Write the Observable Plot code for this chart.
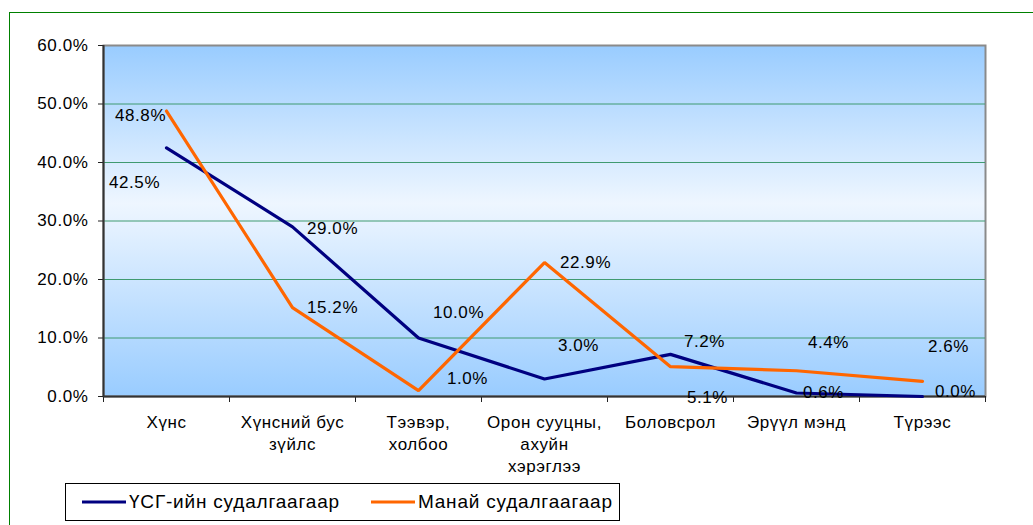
<!DOCTYPE html>
<html>
<head>
<meta charset="utf-8">
<script src="https://cdn.jsdelivr.net/npm/d3@7"></script>
<script src="https://cdn.jsdelivr.net/npm/@observablehq/plot@0.6"></script>
<style>
  html, body { margin: 0; padding: 0; background: #fff; }
  #wrap { position: relative; width: 1033px; height: 525px; overflow: hidden; font-family: "Liberation Sans", Arial, sans-serif; }
  #outer { position: absolute; left: 9px; top: 12px; width: 1200px; height: 700px; border: 1.5px solid #008000; box-sizing: border-box; }
  #chart { position: absolute; left: 0; top: 0; }
  #chart svg text { letter-spacing: 0.6px; }
  #legend { position: absolute; left: 65px; top: 483px; width: 555px; height: 38px; border: 1.5px solid #000; box-sizing: border-box; background: #fff; display: flex; align-items: center; font-size: 19px; letter-spacing: 0.8px; color: #000; }
  .item { display: flex; align-items: center; }
  .item svg { display: block; margin-right: 3px; }
</style>
</head>
<body>
<div id="wrap">
  <div id="outer"></div>
  <div id="chart"></div>
  <div id="legend"></div>
</div>
<script>
// ---- data ----
const categories = ["Хүнс", "Хүнсний бус\nзүйлс", "Тээвэр,\nхолбоо", "Орон сууцны,\nахуйн\nхэрэглээ", "Боловсрол", "Эрүүл мэнд", "Түрээс"];
const seriesNames = ["ҮСГ-ийн судалгаагаар", "Манай судалгаагаар"];
const usgValues = [0.425, 0.290, 0.100, 0.030, 0.072, 0.006, 0.000];
const manaiValues = [0.488, 0.152, 0.010, 0.229, 0.051, 0.044, 0.026];
const yTicks = [0, 0.1, 0.2, 0.3, 0.4, 0.5, 0.6];

// ---- label layout (offsets in px from each point) ----
const usgLabelDx = [-32, 40, 40, 34, 34, 27, 33];
const usgLabelDy = [35, 2, -25, -33, -13, 0, -5];
const manaiLabelDx = [-26, 40, 49, 41, 37, 32, 26];
const manaiLabelDy = [5, 0, -12, 0, 31, -28, -35];

const colors = ["#000080", "#FF6600"];
const fmt = d => (d * 100).toFixed(1) + "%";

const rows = [];
const series = [usgValues, manaiValues];
series.forEach((vals, s) => vals.forEach((v, i) => rows.push({series: seriesNames[s], i, v})));

const boundaries = d3.range(categories.length + 1).map(k => k - 0.5);

const labelMarks = [];
[[usgValues, usgLabelDx, usgLabelDy], [manaiValues, manaiLabelDx, manaiLabelDy]].forEach(([vals, dxs, dys]) => {
  vals.forEach((v, i) => {
    labelMarks.push(Plot.text([{i, v}], {x: "i", y: "v", text: d => fmt(d.v), dx: dxs[i], dy: dys[i], fill: "#000", fontSize: 17}));
  });
});

const chart = Plot.plot({
  width: 1033,
  height: 475,
  marginLeft: 103,
  marginRight: 48,
  marginTop: 45,
  marginBottom: 79,
  style: {fontFamily: "'Liberation Sans', Arial, sans-serif", fontSize: "17px", color: "#000", background: "transparent", overflow: "visible"},
  x: {type: "linear", domain: [-0.5, categories.length - 0.5], axis: null},
  y: {domain: [0, 0.6], axis: null},
  color: {domain: seriesNames, range: colors},
  marks: [
    Plot.frame({fill: "url(#bgGrad)", stroke: "#8a8a8a", strokeWidth: 2}),
    Plot.gridY(yTicks.slice(1, -1), {stroke: "#3f9a70", strokeOpacity: 1, strokeWidth: 1}),
    Plot.axisY(yTicks, {tickFormat: fmt, tickSize: 5, tickPadding: 10, stroke: "#222", fill: "#000", fontSize: 17, label: null}),
    Plot.axisX(boundaries, {tickFormat: () => "", tickSize: 6, stroke: "#222", label: null}),
    Plot.axisX(d3.range(categories.length), {tickFormat: i => categories[i], tickSize: 0, tickPadding: 16, lineHeight: 1.3, fill: "#000", fontSize: 17, label: null}),
    Plot.ruleX([-0.5], {stroke: "#333", strokeWidth: 2}),
    Plot.ruleY([0], {stroke: "#333", strokeWidth: 2}),
    Plot.line(rows, {x: "i", y: "v", z: "series", stroke: "series", strokeWidth: 3.2, strokeLinejoin: "miter"}),
    ...labelMarks
  ]
});

// gradient background for the plot area
const ns = "http://www.w3.org/2000/svg";
const defs = document.createElementNS(ns, "defs");
defs.innerHTML = `<linearGradient id="bgGrad" x1="0" y1="0" x2="0" y2="1">
  <stop offset="0" stop-color="#99CCFF"/>
  <stop offset="0.45" stop-color="#EEF6FF"/>
  <stop offset="1" stop-color="#99CCFF"/>
</linearGradient>`;
chart.insertBefore(defs, chart.firstChild);
document.getElementById("chart").appendChild(chart);

// legend
const legend = document.getElementById("legend");
seriesNames.forEach((name, s) => {
  const item = document.createElement("div");
  item.className = "item";
  item.style.marginLeft = s === 0 ? "16px" : "31px";
  item.innerHTML = `<svg width="44" height="10"><line x1="0" y1="5" x2="44" y2="5" stroke="${colors[s]}" stroke-width="3.2"/></svg><span>${name}</span>`;
  legend.appendChild(item);
});
</script>
</body>
</html>
